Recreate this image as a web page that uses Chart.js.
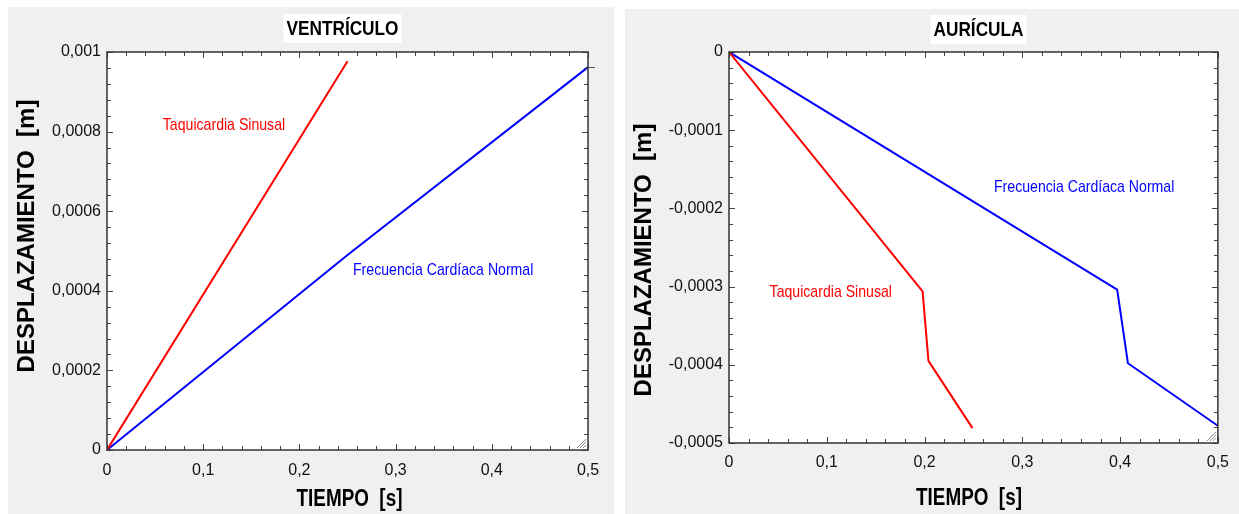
<!DOCTYPE html>
<html>
<head>
<meta charset="utf-8">
<script src="https://cdn.jsdelivr.net/npm/chart.js@4.4.1/dist/chart.umd.min.js"></script>
<style>
  html, body { margin: 0; padding: 0; background: #fff; }
  body { width: 1239px; height: 514px; position: relative; overflow: hidden; }
  .panel { position: absolute; background: #f0f0f0; }
  #pv { left: 8px; top: 7px; width: 606px; height: 507px; }
  #pa { left: 625px; top: 9px; width: 614px; height: 505px; }
  canvas { display: block; }
</style>
</head>
<body>
<div class="panel" id="pv"><canvas id="ventriculo" width="606" height="507"></canvas></div>
<div class="panel" id="pa"><canvas id="auricula" width="614" height="505"></canvas></div>
<script>
// ── Data ─────────────────────────────────────────────────────────
var timeTicks = [0, 0.1, 0.2, 0.3, 0.4, 0.5];
var timeTickLabels = ['0', '0,1', '0,2', '0,3', '0,4', '0,5'];

var ventTicks = [0, 0.0002, 0.0004, 0.0006, 0.0008, 0.001];
var ventTickLabels = ['0', '0,0002', '0,0004', '0,0006', '0,0008', '0,001'];
var auriTicks = [-0.0005, -0.0004, -0.0003, -0.0002, -0.0001, 0];
var auriTickLabels = ['-0,0005', '-0,0004', '-0,0003', '-0,0002', '-0,0001', '0'];

// Ventrículo
var ventTimeTaqui = [0, 0.25];
var ventDispTaqui = [0, 0.000977];
var ventTimeNormal = [0, 0.25, 0.5];
var ventDispNormal = [0, 0.00049, 0.000962];

// Aurícula
var auriTimeTaqui = [0, 0.198, 0.204, 0.249];
var auriDispTaqui = [0, -0.000306, -0.000395, -0.000481];
var auriTimeNormal = [0, 0.397, 0.408, 0.5];
var auriDispNormal = [0, -0.000304, -0.000398, -0.000478];

var RED = '#ff0000';
var BLUE = '#0000ff';
var FONT = "'Liberation Sans', Arial, sans-serif";
var NARROW = 0.82; // horizontal squeeze to mimic Arial Narrow

function points(xs, ys) {
  return xs.map(function (x, i) { return { x: x, y: ys[i] }; });
}

/** Draw text, optionally squeezed horizontally and rotated */
function drawText(ctx, text, x, y, font, color, sx, align, rot) {
  ctx.save();
  ctx.translate(x, y);
  if (rot) ctx.rotate(rot);
  ctx.scale(sx, 1);
  ctx.font = font;
  ctx.fillStyle = color;
  ctx.textAlign = align || 'center';
  ctx.textBaseline = 'middle';
  ctx.fillText(text, 0, 0);
  ctx.restore();
}

/** White plot area, inward ticks, frame, titles and labels */
var framePlugin = {
  id: 'frame',
  beforeDatasetsDraw: function (chart) {
    var a = chart.chartArea, ctx = chart.ctx;
    ctx.save();
    ctx.fillStyle = '#ffffff';
    ctx.fillRect(a.left, a.top, a.right - a.left, a.bottom - a.top);
    ctx.restore();
  },
  afterDraw: function (chart, args, o) {
    var ctx = chart.ctx, a = chart.chartArea;
    var xs = chart.scales.x, ys = chart.scales.y;
    var i, n, px, py, len;

    ctx.save();
    ctx.strokeStyle = '#444';
    ctx.lineWidth = 1;
    ctx.beginPath();
    n = Math.round((xs.max - xs.min) / o.minorX);
    for (i = 0; i <= n; i++) {
      px = Math.round(xs.getPixelForValue(xs.min + i * o.minorX)) + 0.5;
      len = i % 5 === 0 ? 6 : 4;
      ctx.moveTo(px, a.bottom); ctx.lineTo(px, a.bottom - len);
      ctx.moveTo(px, a.top); ctx.lineTo(px, a.top + len);
    }
    n = Math.round((ys.max - ys.min) / o.minorY);
    for (i = 0; i <= n; i++) {
      py = Math.round(ys.getPixelForValue(ys.min + i * o.minorY)) + 0.5;
      len = i % 5 === 0 ? 6 : 4;
      ctx.moveTo(a.left, py); ctx.lineTo(a.left + len, py);
      ctx.moveTo(a.right, py); ctx.lineTo(a.right - len, py);
    }
    ctx.stroke();

    // frame
    ctx.strokeStyle = '#333';
    ctx.lineWidth = 1.5;
    ctx.strokeRect(a.left, a.top, a.right - a.left, a.bottom - a.top);

    // resize grip in the corner
    ctx.strokeStyle = '#8a8a8a';
    ctx.lineWidth = 1;
    ctx.beginPath();
    for (i = 1; i <= 3; i++) {
      ctx.moveTo(a.right - 2 - i * 3, a.bottom - 2);
      ctx.lineTo(a.right - 2, a.bottom - 2 - i * 3);
    }
    ctx.stroke();

    // cursor mark on the right edge
    if (o.cursorY !== undefined) {
      py = Math.round(ys.getPixelForValue(o.cursorY)) + 0.5;
      ctx.strokeStyle = '#555';
      ctx.beginPath();
      ctx.moveTo(a.right, py); ctx.lineTo(a.right + 7, py);
      ctx.stroke();
    }
    ctx.restore();

    // chart title on a white box
    ctx.save();
    ctx.font = 'bold 21px ' + FONT;
    var tw = ctx.measureText(o.title).width * NARROW;
    ctx.fillStyle = '#ffffff';
    ctx.fillRect(o.titleX - tw / 2 - 3, o.titleY - 14.5, tw + 6, 29);
    ctx.restore();
    drawText(ctx, o.title, o.titleX, o.titleY + 1, 'bold 21px ' + FONT, '#000', NARROW);

    // axis titles
    drawText(ctx, 'TIEMPO  [s]', o.xTitle[0], o.xTitle[1], 'bold 23px ' + FONT, '#000', NARROW);
    drawText(ctx, 'DESPLAZAMIENTO  [m]', o.yTitle[0], o.yTitle[1], 'bold 24px ' + FONT, '#000', 1, 'center', -Math.PI / 2);

    // curve labels, anchored in data units
    o.labels.forEach(function (l) {
      drawText(ctx, l.text, xs.getPixelForValue(l.x), ys.getPixelForValue(l.y),
        '17px ' + FONT, l.color, 0.83, 'left');
    });
  }
};

function tickFont() { return { family: FONT, size: 16 }; }

function makeChart(id, datasets, yVals, yLabels, layout, frame) {
  return new Chart(document.getElementById(id), {
    type: 'line',
    data: { datasets: datasets },
    options: {
      responsive: false,
      animation: false,
      devicePixelRatio: 1,
      layout: { padding: layout.padding },
      elements: { point: { radius: 0 }, line: { borderWidth: 2, tension: 0 } },
      plugins: { legend: { display: false }, tooltip: { enabled: false }, frame: frame },
      scales: {
        x: {
          type: 'linear',
          min: timeTicks[0],
          max: timeTicks[timeTicks.length - 1],
          afterBuildTicks: function (s) { s.ticks = timeTicks.map(function (v) { return { value: v }; }); },
          afterFit: function (s) { s.height = layout.xHeight; },
          ticks: {
            autoSkip: false, maxRotation: 0, padding: layout.xPad, color: '#111', font: tickFont(),
            callback: function (v, i) { return timeTickLabels[i]; }
          },
          grid: { display: false, drawTicks: false },
          border: { display: false }
        },
        y: {
          type: 'linear',
          min: yVals[0],
          max: yVals[yVals.length - 1],
          afterBuildTicks: function (s) { s.ticks = yVals.map(function (v) { return { value: v }; }); },
          afterFit: function (s) { s.width = layout.yWidth; },
          ticks: {
            autoSkip: false, padding: 6, color: '#111', font: tickFont(),
            callback: function (v, i) { return yLabels[i]; }
          },
          grid: { display: false, drawTicks: false },
          border: { display: false }
        }
      }
    },
    plugins: [framePlugin]
  });
}

makeChart('ventriculo', [
  { data: points(ventTimeTaqui, ventDispTaqui), borderColor: RED },
  { data: points(ventTimeNormal, ventDispNormal), borderColor: BLUE }
], ventTicks, ventTickLabels,
  { padding: { top: 45, right: 26, left: 0, bottom: 0 }, yWidth: 99, xHeight: 64, xPad: 11 },
  {
    title: 'VENTRÍCULO', titleX: 334.5, titleY: 21.5,
    xTitle: [341.5, 493], yTitle: [19, 229],
    minorX: 0.02, minorY: 0.00004,
    cursorY: ventDispNormal[ventDispNormal.length - 1],
    labels: [
      { text: 'Taquicardia Sinusal', x: 0.058, y: 0.000817, color: RED },
      { text: 'Frecuencia Cardíaca Normal', x: 0.2557, y: 0.000452, color: BLUE }
    ]
  });

makeChart('auricula', [
  { data: points(auriTimeTaqui, auriDispTaqui), borderColor: RED },
  { data: points(auriTimeNormal, auriDispNormal), borderColor: BLUE }
], auriTicks, auriTickLabels,
  { padding: { top: 43, right: 16, left: 0, bottom: 0 }, yWidth: 104, xHeight: 71, xPad: 10 },
  {
    title: 'AURÍCULA', titleX: 353.5, titleY: 20.5,
    xTitle: [344, 490], yTitle: [19, 251],
    minorX: 0.02, minorY: 0.00002,
    labels: [
      { text: 'Frecuencia Cardíaca Normal', x: 0.271, y: -0.000173, color: BLUE },
      { text: 'Taquicardia Sinusal', x: 0.0415, y: -0.000307, color: RED }
    ]
  });
</script>
</body>
</html>
